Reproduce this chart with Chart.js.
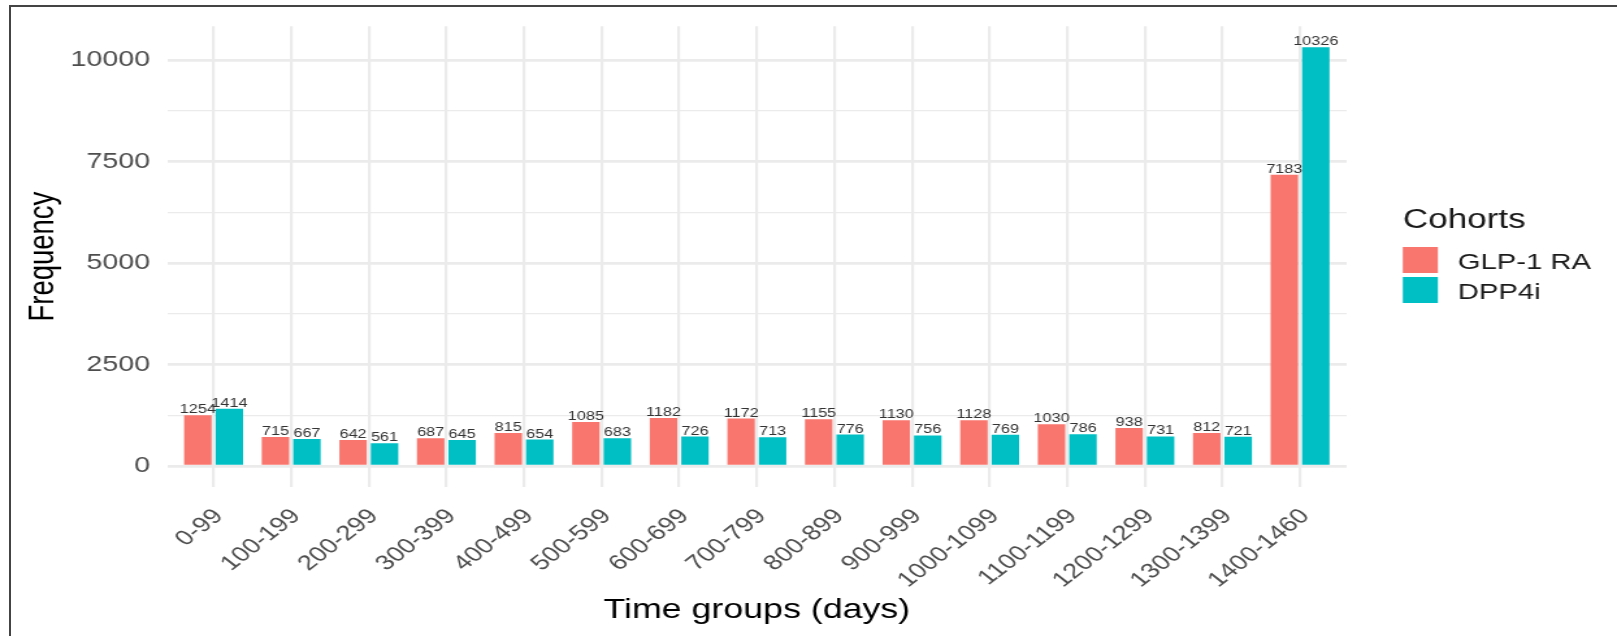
<!DOCTYPE html>
<html><head><meta charset="utf-8">
<script src="https://cdn.jsdelivr.net/npm/chart.js@4.4.1/dist/chart.umd.min.js"></script>
<style>
html,body{margin:0;padding:0;background:#fff;overflow:hidden;width:1617px;height:636px;}
#wrap{position:absolute;left:0;top:0;width:1244px;height:636px;transform:scaleX(1.29984);transform-origin:0 0;}
#frameTop{position:absolute;left:9px;top:5px;width:1608px;height:2px;background:#444;}
#frameLeft{position:absolute;left:9px;top:5px;width:2px;height:631px;background:#444;}
</style></head><body>
<div id="wrap"><canvas id="c" width="1244" height="636"></canvas></div>
<div id="frameTop"></div><div id="frameLeft"></div>
<script>
const categories = ['0-99','100-199','200-299','300-399','400-499','500-599','600-699','700-799','800-899','900-999','1000-1099','1100-1199','1200-1299','1300-1399','1400-1460'];
const glp1 = [1254,715,642,687,815,1085,1182,1172,1155,1130,1128,1030,938,812,7183];
const dpp4i = [1414,667,561,645,654,683,726,713,776,756,769,786,731,721,10326];
const seriesNames = ['GLP-1 RA','DPP4i'];
const seriesColors = ['#F8766D','#00BFC4'];
const yMajorTicks = [0,2500,5000,7500,10000];
const yMinorTicks = [1250,3750,6250,8750];

const FONT = '"Liberation Sans", Arial, Helvetica, sans-serif';

const valueLabels = {
  id:'valueLabels',
  afterDatasetsDraw(chart){
    const ctx = chart.ctx;
    ctx.save();
    ctx.font = '12.5px ' + FONT;
    ctx.fillStyle = '#333333';
    ctx.textAlign = 'center';
    ctx.textBaseline = 'alphabetic';
    chart.data.datasets.forEach((ds,i)=>{
      chart.getDatasetMeta(i).data.forEach((bar,j)=>{
        ctx.fillText(String(ds.data[j].y), bar.x, bar.y - 2);
      });
    });
    ctx.restore();
  }
};

const customLegend = {
  id:'customLegend',
  afterDraw(chart){
    const ctx = chart.ctx;
    ctx.save();
    const x0 = 1079.2;
    ctx.fillStyle = '#1a1a1a';
    ctx.textAlign = 'left';
    ctx.textBaseline = 'alphabetic';
    ctx.font = '27px ' + FONT;
    ctx.fillText('Cohorts', x0, 228);
    ctx.font = '22.5px ' + FONT;
    chart.data.datasets.forEach((ds,i)=>{
      const top = 247 + i*30;
      ctx.fillStyle = ds.backgroundColor;
      ctx.fillRect(x0, top, 27, 26);
      ctx.fillStyle = '#1a1a1a';
      ctx.fillText(ds.label, 1121.5, top + 21.5);
    });
    ctx.restore();
  }
};

new Chart(document.getElementById('c'), {
  type:'bar',
  data:{
    datasets:[
      {label:seriesNames[0], data:glp1.map((v,i)=>({x:i,y:v})), backgroundColor:seriesColors[0], borderWidth:0},
      {label:seriesNames[1], data:dpp4i.map((v,i)=>({x:i,y:v})), backgroundColor:seriesColors[1], borderWidth:0}
    ]
  },
  options:{
    responsive:false,
    animation:false,
    devicePixelRatio:1,
    datasets:{bar:{categoryPercentage:0.811, barPercentage:0.873, grouped:true}},
    layout:{padding:{left:0, right:208, top:22, bottom:0}},
    plugins:{legend:{display:false}, tooltip:{enabled:false}},
    scales:{
      x:{
        type:'linear', min:-0.6, max:14.6, offset:false,
        afterBuildTicks:(s)=>{ s.ticks = categories.map((c,i)=>({value:i})); },
        afterFit:(s)=>{ s.height = 149; },
        grid:{color:'#EBEBEB', lineWidth:2.2, drawTicks:false, offset:false},
        border:{display:false},
        ticks:{
          autoSkip:false, maxRotation:45, minRotation:45, padding:17, labelOffset:4,
          color:'#4D4D4D', font:{family:FONT, size:21},
          callback:(v)=>categories[v]
        },
        title:{display:true, text:'Time groups (days)', color:'#000', font:{family:FONT, size:27.5}, padding:{top:0,bottom:9}}
      },
      y:{
        min:-516, max:10842,
        afterBuildTicks:(s)=>{ s.ticks = yMajorTicks.concat(yMinorTicks).sort((a,b)=>a-b).map(v=>({value:v})); },
        afterFit:(s)=>{ s.width = 128.5; },
        grid:{color:'#EBEBEB', lineWidth:(ctx)=> (ctx.tick && yMajorTicks.includes(ctx.tick.value)) ? 2.7 : 1.35, drawTicks:false},
        border:{display:false},
        ticks:{
          padding:13, color:'#4D4D4D', font:{family:FONT, size:22},
          callback:(v)=> yMajorTicks.includes(v) ? String(v) : ''
        },
        title:{display:true, text:'Frequency', color:'#000', font:{family:FONT, size:27.5}, padding:{top:17,bottom:0}}
      }
    }
  },
  plugins:[valueLabels, customLegend]
});
</script>
</body></html>
